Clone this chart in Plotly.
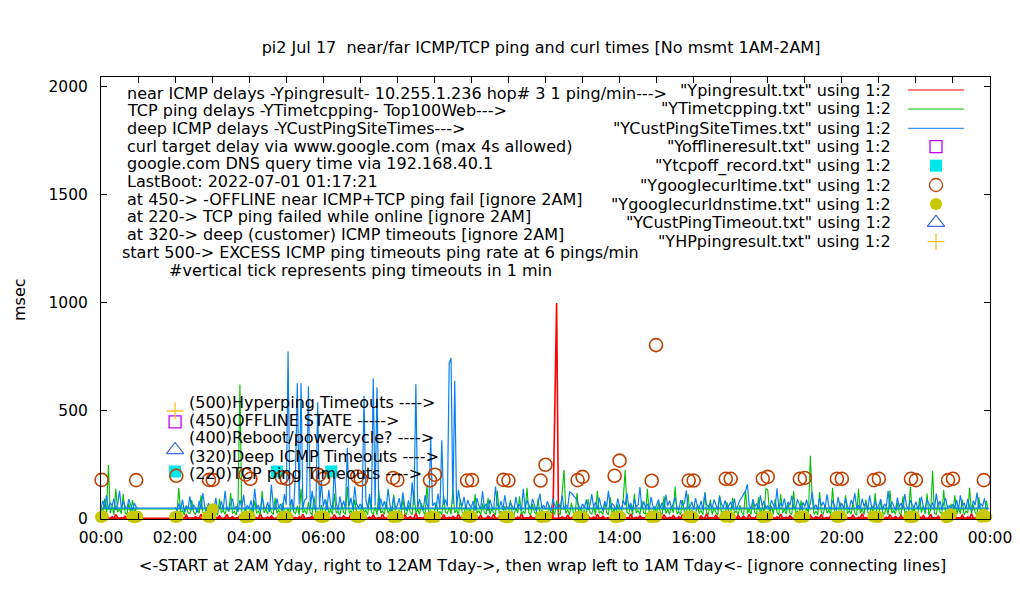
import plotly.graph_objects as go

# ---------------- DATA ----------------
STEP_MIN = 3  # sampling step of the line series (minutes)
DAY_START_H = 2  # day segment starts 02:00 yesterday, wraps to 00:00 after 24:00

# near ICMP delays (Ypingresult) 02:00 -> 23:57
red_day = [
    3, 5, 12, 4, 6, 3, 18, 5, 4, 7, 3, 10, 5, 4, 22, 6, 3, 8, 5, 4,
    6, 3, 9, 5, 15, 4, 3, 7, 20, 5, 4, 11, 3, 6, 5, 16, 4, 3, 8, 5,
    4, 12, 5, 3, 7, 4, 25, 6, 3, 5, 9, 4, 14, 5, 3, 6, 18, 4, 5, 3,
    5, 3, 8, 17, 4, 6, 3, 10, 5, 22, 4, 3, 7, 5, 13, 4, 6, 3, 19, 5,
    3, 7, 4, 11, 5, 3, 20, 6, 4, 8, 3, 15, 5, 4, 6, 24, 3, 5, 9, 4,
    6, 4, 13, 5, 3, 9, 4, 18, 5, 3, 7, 4, 21, 6, 3, 10, 5, 4, 16, 3,
    4, 8, 5, 3, 19, 6, 4, 11, 3, 5, 26, 4, 7, 5, 3, 14, 6, 4, 9, 5,
    3, 15, 4, 6, 3, 20, 5, 4, 8, 3, 12, 5, 4, 23, 6, 3, 7, 5, 17, 4,
    5, 4, 10, 3, 6, 18, 4, 5, 3, 13, 6, 4, 22, 5, 3, 8, 4, 16, 5, 3,
    6, 3, 12, 5, 4, 9, 3, 25, 6, 4, 7, 3, 15, 5, 4, 11, 6, 3, 20, 4,
    5, 8, 3, 14, 4, 500, 1000, 6, 3, 10, 5, 4, 19, 3, 6, 12, 4, 5, 8, 3,
    4, 6, 3, 16, 5, 4, 9, 3, 21, 6, 4, 12, 5, 3, 7, 4, 18, 5, 3, 10,
    5, 3, 11, 4, 7, 3, 24, 5, 4, 8, 3, 15, 6, 4, 5, 19, 3, 6, 4, 9,
    3, 13, 5, 4, 20, 6, 3, 8, 4, 16, 5, 3, 10, 4, 22, 6, 3, 5, 12, 4,
    6, 4, 9, 3, 14, 5, 4, 25, 3, 7, 5, 4, 17, 6, 3, 11, 4, 5, 20, 3,
    4, 8, 5, 3, 18, 4, 6, 12, 3, 5, 21, 4, 7, 3, 15, 5, 4, 9, 6, 3,
    5, 3, 14, 6, 4, 10, 3, 23, 5, 4, 8, 3, 16, 6, 4, 12, 3, 5, 19, 4,
    3, 9, 4, 17, 5, 3, 11, 6, 4, 22, 3, 5, 8, 4, 14, 6, 3, 20, 5, 4,
    6, 4, 12, 3, 7, 5, 18, 4, 3, 9, 5, 24, 4, 6, 3, 13, 5, 4, 10, 3,
    4, 15, 5, 3, 8, 4, 20, 6, 3, 11, 4, 5, 17, 3, 6, 9, 4, 22, 5, 3,
    5, 3, 10, 4, 16, 5, 3, 7, 21, 4, 6, 3, 13, 5, 4, 19, 3, 8, 5, 4,
    3, 12, 4, 6, 3, 18, 5, 4, 9, 3, 25, 5, 4, 7, 3, 14, 6, 4, 11, 3,
]
# 00:00 -> 01:00 today
red_wrap = [3, 8, 4, 15, 5, 3, 10, 4, 20, 6, 3, 7, 4, 12, 5, 3, 18, 4, 6, 3, 3]

# TCP ping delays (YTimetcpping)
green_day = [
    35, 22, 145, 28, 40, 18, 62, 30, 25, 88, 33, 20, 47, 26, 110, 31, 19, 55, 29, 38,
    24, 70, 30, 18, 95, 27, 42, 21, 58, 33, 120, 25, 36, 19, 80, 623, 28, 30, 45, 22,
    30, 52, 21, 85, 26, 38, 17, 130, 29, 44, 23, 66, 31, 20, 98, 27, 40, 19, 75, 34,
    26, 48, 20, 92, 33, 24, 60, 18, 140, 29, 41, 22, 78, 30, 19, 105, 27, 36, 21, 64,
    31, 19, 86, 25, 43, 20, 118, 28, 35, 17, 72, 30, 22, 150, 26, 39, 18, 90, 32, 24,
    20, 68, 27, 41, 19, 100, 30, 23, 56, 18, 135, 29, 37, 21, 82, 26, 44, 20, 112, 31,
    25, 40, 18, 95, 28, 22, 63, 30, 19, 125, 27, 45, 21, 74, 33, 20, 160, 26, 38, 23,
    29, 80, 22, 36, 19, 108, 31, 25, 55, 20, 140, 28, 42, 18, 90, 30, 24, 66, 21, 47,
    33, 20, 115, 27, 39, 18, 72, 29, 24, 98, 21, 45, 30, 19, 130, 26, 35, 20, 60, 28,
    22, 88, 30, 19, 50, 27, 105, 21, 36, 25, 145, 29, 18, 70, 32, 23, 95, 20, 41, 27,
    30, 19, 62, 26, 38, 21, 85, 28, 20, 110, 227, 25, 42, 19, 75, 31, 23, 120, 20, 48,
    26, 40, 20, 92, 29, 23, 58, 18, 130, 27, 35, 21, 80, 30, 19, 100, 25, 44, 22, 67,
    28, 20, 95, 227, 31, 24, 66, 19, 118, 27, 40, 21, 85, 29, 22, 140, 26, 37, 18, 58,
    23, 76, 30, 19, 105, 26, 43, 21, 60, 28, 150, 24, 35, 20, 88, 31, 22, 115, 27, 39,
    30, 21, 68, 25, 40, 19, 125, 29, 23, 90, 20, 52, 31, 18, 110, 27, 36, 22, 78, 26,
    22, 98, 28, 37, 20, 64, 30, 18, 135, 26, 43, 21, 82, 29, 24, 100, 19, 57, 27, 140,
    135, 25, 60, 21, 92, 30, 19, 115, 27, 45, 22, 70, 28, 20, 130, 25, 38, 18, 86, 29,
    24, 50, 30, 293, 100, 21, 36, 19, 125, 30, 23, 66, 27, 42, 20, 145, 26, 33, 22, 80,
    27, 19, 110, 25, 38, 22, 72, 29, 18, 140, 26, 47, 20, 90, 31, 23, 60, 19, 120, 28,
    21, 85, 30, 24, 55, 19, 132, 27, 40, 22, 75, 29, 18, 105, 26, 36, 20, 150, 28, 45,
    26, 20, 98, 30, 62, 23, 118, 19, 42, 223, 27, 21, 80, 31, 24, 135, 28, 38, 19, 70,
    29, 110, 22, 48, 25, 90, 20, 37, 27, 145, 23, 66, 30, 19, 100, 26, 52, 21, 84, 46,
]
green_wrap = [46, 30, 95, 22, 250, 27, 60, 19, 140, 31, 48, 24, 115, 28, 20, 72, 26, 88, 33, 45, 46]

# deep ICMP delays (YCustPingSiteTimes)
blue_day = [
    55, 38, 72, 45, 90, 33, 61, 48, 105, 40, 66, 52, 30, 84, 47, 120, 58, 36, 74, 50,
    62, 44, 98, 35, 57, 81, 42, 130, 50, 37, 69, 95, 46, 58, 33, 88, 54, 112, 41, 63,
    48, 86, 39, 140, 52, 64, 35, 101, 57, 45, 78, 33, 160, 60, 42, 95, 51, 70, 38, 115,
    66, 775, 58, 92, 44, 210, 628, 70, 628, 52, 88, 95, 615, 47, 130, 61, 39, 540, 55, 180,
    58, 92, 41, 135, 63, 49, 240, 77, 38, 105, 56, 84, 45, 330, 60, 98, 43, 150, 69, 52,
    70, 46, 570, 88, 52, 115, 44, 650, 61, 610, 39, 95, 57, 82, 48, 140, 66, 37, 104, 53,
    62, 97, 45, 123, 58, 38, 86, 51, 170, 64, 625, 47, 92, 55, 41, 110, 68, 49, 380, 60,
    75, 52, 118, 44, 365, 66, 90, 57, 720, 745, 70, 640, 49, 135, 81, 58, 102, 46, 88, 63,
    55, 84, 40, 97, 62, 47, 128, 53, 71, 38, 90, 59, 44, 150, 66, 50, 83, 42, 109, 57,
    48, 76, 60, 42, 102, 55, 68, 39, 140, 51, 87, 63, 45, 93, 58, 37, 72, 118, 50, 64,
    44, 82, 57, 39, 95, 61, 48, 73, 52, 110, 43, 66, 54, 125, 120, 110, 100, 88, 60, 47,
    70, 52, 90, 41, 64, 115, 55, 78, 46, 99, 60, 38, 83, 57, 130, 49, 72, 61, 42, 95,
    58, 44, 86, 63, 120, 50, 75, 39, 92, 56, 67, 148, 48, 81, 54, 70, 42, 103, 59, 46,
    66, 90, 51, 77, 43, 112, 60, 85, 47, 69, 100, 55, 40, 88, 62, 74, 132, 49, 58, 80,
    45, 97, 60, 52, 84, 41, 119, 66, 57, 73, 48, 90, 61, 44, 105, 70, 53, 86, 47, 64,
    78, 50, 95, 43, 68, 88, 100, 115, 130, 160, 62, 48, 92, 57, 71, 45, 110, 59, 83, 52,
    60, 45, 87, 66, 52, 142, 49, 74, 58, 95, 41, 80, 63, 108, 55, 47, 91, 69, 42, 77,
    58, 90, 46, 71, 125, 54, 66, 43, 98, 61, 79, 50, 114, 57, 45, 86, 64, 39, 102, 55,
    73, 48, 96, 59, 42, 88, 67, 120, 51, 63, 45, 94, 58, 76, 41, 109, 62, 53, 85, 47,
    65, 92, 44, 70, 57, 130, 49, 81, 62, 40, 99, 56, 74, 48, 115, 60, 43, 87, 66, 52,
    80, 47, 63, 104, 55, 41, 90, 68, 52, 77, 46, 118, 59, 84, 43, 71, 97, 54, 62, 45,
    69, 51, 88, 42, 110, 60, 75, 47, 93, 56, 40, 85, 64, 122, 49, 72, 58, 96, 44, 50,
]
blue_wrap = [50, 85, 52, 110, 44, 76, 60, 95, 41, 68, 130, 50, 83, 57, 46, 92, 62, 39, 74, 55, 50]

# curl target delay via www.google.com (Ygooglecurltime)
curl_times = ["00:01", "00:57", "02:02", "02:55", "03:01", "03:54", "04:02", "04:53", "05:01",
              "05:53", "06:00", "06:55", "07:01", "07:53", "08:00", "08:53", "09:01", "09:53",
              "10:01", "10:52", "11:00", "11:52", "12:00", "12:52", "13:00", "13:52", "14:00",
              "14:52", "14:59", "15:52", "16:00", "16:52", "17:00", "17:52", "18:00", "18:52",
              "19:00", "19:52", "20:00", "20:52", "21:00", "21:52", "22:00", "22:52", "23:00",
              "23:50"]
curl_vals = [181, 180, 200, 181, 181, 205, 186, 192, 186,
             203, 186, 197, 183, 190, 180, 179, 205, 178,
             180, 181, 178, 178, 251, 180, 195, 200, 270,
             177, 805, 178, 178, 186, 186, 186, 195, 186,
             190, 186, 186, 180, 186, 186, 180, 180, 186,
             180]

# google.com DNS query time (Ygooglecurldnstime)
dns_times = ["00:00", "00:03",
             "00:51", "00:55", "00:59",
             "02:00", "02:04",
             "02:53", "02:57", "03:01",
             "03:53", "03:57", "04:01",
             "04:54", "04:58", "05:02",
             "05:54", "05:58", "06:02",
             "06:53", "06:57", "07:01",
             "07:53", "07:57", "08:01",
             "08:53", "08:57", "09:01",
             "09:53", "09:57", "10:01",
             "10:53", "10:57", "11:01",
             "11:53", "11:57", "12:01",
             "12:53", "12:57", "13:01",
             "13:53", "13:57", "14:01",
             "14:51", "14:55", "14:59",
             "15:51", "15:55", "15:59",
             "16:51", "16:55", "16:59",
             "17:51", "17:55", "17:59",
             "18:51", "18:55", "18:59",
             "19:51", "19:55", "19:59",
             "20:51", "20:55", "20:59",
             "21:49", "21:53", "21:57",
             "22:49", "22:53", "22:57",
             "23:46", "23:50", "23:54"]
dns_vals = [9, 11,
            10, 8, 11,
            9, 10,
            10, 9, 45,
            8, 11, 10,
            9, 10, 8,
            11, 9, 10,
            10, 8, 11,
            9, 11, 10,
            8, 10, 9,
            11, 9, 10,
            10, 8, 9,
            9, 11, 10,
            10, 9, 8,
            8, 10, 11,
            9, 10, 10,
            11, 9, 8,
            10, 11, 9,
            9, 10, 11,
            8, 12, 10,
            10, 9, 11,
            11, 10, 9,
            9, 8, 10,
            8, 10, 22,
            10, 20, 11]

offline_times, offline_vals = ["02:00"], [450]
tcpoff_times, tcpoff_vals = ["02:00", "04:45", "06:13"], [220, 220, 220]
custto_times, custto_vals = ["02:00"], [320]
hpping_times, hpping_vals = ["02:00"], [500]

x_tick_hours = list(range(0, 25))
x_tick_labels = ["00:00", "", "02:00", "", "04:00", "", "06:00", "", "08:00", "", "10:00", "",
                 "12:00", "", "14:00", "", "16:00", "", "18:00", "", "20:00", "", "22:00", "", "00:00"]
y_tick_vals = [0, 500, 1000, 1500, 2000]

title_text = "pi2 Jul 17\u00a0 near/far ICMP/TCP ping and curl times [No msmt 1AM-2AM]"
info_lines = [
    "near ICMP delays -Ypingresult- 10.255.1.236 hop# 3 1 ping/min--->",
    "TCP ping delays -YTimetcpping- Top100Web--->",
    "deep ICMP delays -YCustPingSiteTimes--->",
    "curl target delay via www.google.com (max 4s allowed)",
    "google.com DNS query time via 192.168.40.1",
    "LastBoot: 2022-07-01 01:17:21",
    "at 450-&gt; -OFFLINE near ICMP+TCP ping fail [ignore 2AM]",
    "at 220-&gt; TCP ping failed while online [ignore 2AM]",
    "at 320-&gt; deep (customer) ICMP timeouts [ignore 2AM]",
    "start 500-&gt; EXCESS ICMP ping timeouts ping rate at 6 pings/min",
    "#vertical tick represents ping timeouts in 1 min",
]
key_labels = ["(500)Hyperping Timeouts ----&gt;", "(450)OFFLINE STATE -----&gt;",
              "(400)Reboot/powercycle? ----&gt;", "(320)Deep ICMP Timeouts ----&gt;",
              "(220)TCP ping Timeouts ----&gt;"]
key_label_y = [541, 457, 375, 291, 209]
legend_names = ['"Ypingresult.txt" using 1:2', '"YTimetcpping.txt" using 1:2',
                '"YCustPingSiteTimes.txt" using 1:2', '"Yofflineresult.txt" using 1:2',
                '"Ytcpoff_record.txt" using 1:2', '"Ygooglecurltime.txt" using 1:2',
                '"Ygooglecurldnstime.txt" using 1:2', '"YCustPingTimeout.txt" using 1:2',
                '"YHPpingresult.txt" using 1:2']
x_title = "&lt;-START at 2AM Yday, right to 12AM Tday-&gt;, then wrap left to 1AM Tday&lt;- [ignore connecting lines]"

# ---------------- HELPERS ----------------
def hhmm(s):
    h, m = s.split(":")
    return int(h) + int(m) / 60.0

def series_x(day, wrap):
    xs = [DAY_START_H + i * STEP_MIN / 60.0 for i in range(len(day))]
    xs += [i * STEP_MIN / 60.0 for i in range(len(wrap))]
    return xs

# page body margin offset of the html page
OFF = 8
FIG_W, FIG_H = 1020 - OFF, 600 - OFF
# plot box in screen pixels
L, R, T, B = 101, 990, 77, 519
W, H = R - L, B - T
def px(x):
    return (x - L) / W
def py(y):
    return (B - y) / H

FONT = "DejaVu Sans"
FS = 16
C_RED, C_GREEN, C_BLUE = "#ff0000", "#00c000", "#0a80f0"
C_OFF, C_TCPOFF, C_CURL, C_DNS, C_CUST, C_HP = "#c000ff", "#00e8e8", "#c04000", "#c8c800", "#4169e1", "#ffc020"

fig = go.Figure()

# line series
fig.add_trace(go.Scatter(x=series_x(red_day, red_wrap), y=red_day + red_wrap, mode="lines",
                         line=dict(color=C_RED, width=1.6)))
fig.add_trace(go.Scatter(x=series_x(green_day, green_wrap), y=green_day + green_wrap, mode="lines",
                         line=dict(color=C_GREEN, width=1.1)))
fig.add_trace(go.Scatter(x=series_x(blue_day, blue_wrap), y=blue_day + blue_wrap, mode="lines",
                         line=dict(color=C_BLUE, width=1.2)))

# point series
def pts(times, vals, symbol, color, size, lw=1.3, fill=False):
    mk = dict(symbol=symbol, size=size, color=color)
    mk["line"] = dict(width=0) if fill else dict(color=color, width=lw)
    return go.Scatter(x=[hhmm(t) for t in times], y=vals, mode="markers", marker=mk, cliponaxis=False)

fig.add_trace(pts(offline_times, offline_vals, "square-open", C_OFF, 12))
fig.add_trace(pts(tcpoff_times, tcpoff_vals, "square", C_TCPOFF, 12, fill=True))
fig.add_trace(pts(curl_times, curl_vals, "circle-open", C_CURL, 13, lw=1.6))
fig.add_trace(pts(dns_times, dns_vals, "circle", C_DNS, 12, fill=True))
fig.add_trace(pts(custto_times, custto_vals, "triangle-up-open", C_CUST, 15, lw=1.2))
fig.add_trace(pts(hpping_times, hpping_vals, "cross-thin-open", C_HP, 12, lw=1.3))

# legend samples (overlay axes in [0,1] box coordinates)
leg_rows = [90, 109, 128.3, 146.7, 165.7, 185, 204, 222.7, 241.7]
line_cols = [C_RED, C_GREEN, C_BLUE]
for i, c in enumerate(line_cols):
    fig.add_trace(go.Scatter(x=[px(908), px(964)], y=[py(leg_rows[i])] * 2, mode="lines",
                             line=dict(color=c, width=1), xaxis="x2", yaxis="y2"))
leg_markers = [("square-open", C_OFF, 12, False), ("square", C_TCPOFF, 12, True),
               ("circle-open", C_CURL, 13, False), ("circle", C_DNS, 12, True),
               ("triangle-up-open", C_CUST, 15, False), ("cross-thin-open", C_HP, 12, False)]
for j, (sym, col, sz, fl) in enumerate(leg_markers):
    mk = dict(symbol=sym, color=col, size=sz, line=dict(color=col, width=(0 if fl else 1.3)))
    fig.add_trace(go.Scatter(x=[px(936)], y=[py(leg_rows[3 + j])], mode="markers", marker=mk,
                             xaxis="x2", yaxis="y2"))

ann = []
for i, name in enumerate(legend_names):
    ann.append(dict(text=name, xref="paper", yref="paper", x=px(893), y=py(leg_rows[i]),
                    xanchor="right", yanchor="middle", showarrow=False))
info_x = [125] * 9 + [120, 167]
for i, line in enumerate(info_lines):
    ann.append(dict(text=line, xref="paper", yref="paper", x=px(info_x[i]), y=py(93 + 17.7 * i),
                    xanchor="left", yanchor="middle", showarrow=False))
for lab, yv in zip(key_labels, key_label_y):
    ann.append(dict(text=lab, xref="x", yref="y", x=(187 - L) / 37.0, y=yv,
                    xanchor="left", yanchor="middle", showarrow=False))
ann.append(dict(text=x_title, xref="paper", yref="paper", x=px(542), y=py(565),
                xanchor="center", yanchor="middle", showarrow=False))
ann.append(dict(text="msec", xref="paper", yref="paper", x=px(19), y=py(300), textangle=-90,
                xanchor="center", yanchor="middle", showarrow=False))

fig.update_layout(
    width=FIG_W, height=FIG_H,
    margin=dict(l=L - OFF, r=1020 - R, t=T - OFF, b=600 - B, autoexpand=False),
    paper_bgcolor="white", plot_bgcolor="white",
    showlegend=False, hovermode=False,
    font=dict(family=FONT, size=FS, color="black"),
    title=dict(text=title_text, x=(541 - OFF) / FIG_W, y=1 - (47 - OFF) / FIG_H,
               xanchor="center", yanchor="middle",
               font=dict(family=FONT, size=FS, color="black")),
    xaxis=dict(range=[0, 24], tickmode="array", tickvals=x_tick_hours, ticktext=x_tick_labels,
               ticks="inside", ticklen=6, tickcolor="black", mirror="ticks", showline=True,
               linecolor="black", linewidth=1, showgrid=False, zeroline=False,
               ticklabelstandoff=4, tickfont=dict(family=FONT, size=15.5, color="black")),
    yaxis=dict(range=[0, 2046], tickmode="array", tickvals=y_tick_vals,
               ticks="inside", ticklen=6, tickcolor="black", mirror="ticks", showline=True,
               linecolor="black", linewidth=1, showgrid=False, zeroline=False,
               ticklabelstandoff=9, tickfont=dict(family=FONT, size=15.5, color="black")),
    xaxis2=dict(range=[0, 1], overlaying="x", visible=False, fixedrange=True),
    yaxis2=dict(range=[0, 1], overlaying="y", visible=False, fixedrange=True),
    annotations=ann,
)

fig.write_html("out.html")
